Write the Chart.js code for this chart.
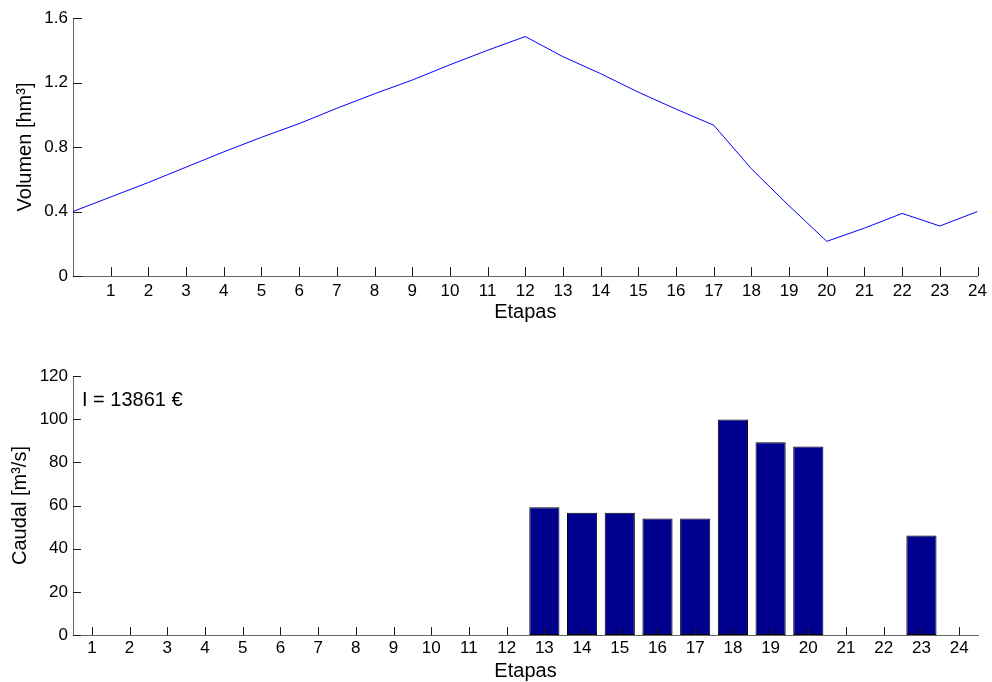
<!DOCTYPE html>
<html>
<head>
<meta charset="utf-8">
<script src="https://cdn.jsdelivr.net/npm/chart.js@4"></script>
<style>
  html, body { margin: 0; padding: 0; background: #fff; }
  #wrap { position: relative; width: 992px; height: 682px; }
  .panel { position: absolute; left: 0; width: 992px; height: 341px; }
</style>
</head>
<body>
<div id="wrap">
  <div class="panel" style="top:0"><canvas id="vol"></canvas></div>
  <div class="panel" style="top:341px"><canvas id="flow"></canvas></div>
</div>
<script>
// Reservoir volume at the end of each stage (stage 0 = initial state)
const stages = [0, 1, 2, 3, 4, 5, 6, 7, 8, 9, 10, 11, 12, 13, 14, 15, 16, 17, 18, 19, 20, 21, 22, 23, 24];
const volume = [0.40, 0.49, 0.58, 0.675, 0.77, 0.86, 0.945, 1.04, 1.13, 1.215, 1.31, 1.40, 1.485,
                1.36, 1.255, 1.14, 1.035, 0.935, 0.665, 0.435, 0.215, 0.297, 0.388, 0.31, 0.40];
const volumeTicks = [0, 0.4, 0.8, 1.2, 1.6];

// Turbined flow per stage
const flowStages = ['1', '2', '3', '4', '5', '6', '7', '8', '9', '10', '11', '12',
                    '13', '14', '15', '16', '17', '18', '19', '20', '21', '22', '23', '24'];
const flow = [0, 0, 0, 0, 0, 0, 0, 0, 0, 0, 0, 0,
              59.2, 56.6, 56.6, 54.0, 54.0, 99.8, 89.3, 87.3, 0, 0, 46.1, 0];
const flowTicks = [0, 20, 40, 60, 80, 100, 120];

const costLabel = 'I = 13861 \u20AC';

const FONT = "'Liberation Sans', Arial, Helvetica, sans-serif";
const tickFont = { family: FONT, size: 17 };
const titleFont = { family: FONT, size: 20, lineHeight: 1 };

// Tick marks drawn on the inside of the axes
const inwardTicks = {
  id: 'inwardTicks',
  afterDatasetsDraw(chart, args, opts) {
    const { ctx, chartArea: a } = chart;
    const xs = chart.scales.x, ys = chart.scales.y;
    const len = opts.length || 8;
    ctx.save();
    ctx.strokeStyle = '#1a1a1a';
    ctx.lineWidth = 1;
    ctx.beginPath();
    xs.ticks.forEach((t, i) => {
      const px = Math.round(xs.getPixelForTick(i)) + 0.5;
      if (px < a.left + 1) return;
      ctx.moveTo(px, a.bottom);
      ctx.lineTo(px, a.bottom - len);
    });
    ys.ticks.forEach((t, i) => {
      const py = Math.round(ys.getPixelForTick(i)) + 0.5;
      ctx.moveTo(a.left, py);
      ctx.lineTo(a.left + len, py);
    });
    ctx.stroke();
    ctx.restore();
  }
};

// Cost annotation in the upper-left corner of the flow panel
const costText = {
  id: 'costText',
  afterDraw(chart) {
    const { ctx, chartArea: a } = chart;
    ctx.save();
    ctx.font = '20px ' + FONT;
    ctx.fillStyle = '#000';
    ctx.textBaseline = 'middle';
    ctx.textAlign = 'left';
    ctx.fillText(costLabel, a.left + 9, a.top + 24);
    ctx.restore();
  }
};

function fixedWidth(w) { return (scale) => { scale.width = w; }; }
function fixedHeight(h) { return (scale) => { scale.height = h; }; }

new Chart(document.getElementById('vol'), {
  type: 'line',
  data: {
    datasets: [{
      data: stages.map((s, i) => ({ x: s, y: volume[i] })),
      borderColor: '#0000ff',
      borderWidth: 1,
      pointRadius: 0,
      tension: 0,
      fill: false
    }]
  },
  options: {
    responsive: true,
    maintainAspectRatio: false,
    animation: false,
    events: [],
    layout: { padding: { top: 18, right: 14, left: 0, bottom: 0 } },
    plugins: { legend: { display: false }, tooltip: { enabled: false }, inwardTicks: { length: 9 } },
    scales: {
      x: {
        type: 'linear',
        min: 0, max: 24,
        afterFit: fixedHeight(65),
        grid: { display: false, drawTicks: false },
        border: { display: true, color: '#666', width: 1 },
        ticks: {
          stepSize: 1, autoSkip: false, maxRotation: 0, padding: 5,
          color: '#000', font: tickFont,
          callback: (v) => (v === 0 ? '' : String(v))
        },
        title: { display: true, text: 'Etapas', color: '#000', font: titleFont, padding: { top: 0, bottom: 19 } }
      },
      y: {
        min: 0, max: 1.6,
        afterFit: fixedWidth(73),
        afterBuildTicks: (scale) => { scale.ticks = volumeTicks.map(v => ({ value: v })); },
        grid: { display: false, drawTicks: false },
        border: { display: true, color: '#666', width: 1 },
        ticks: {
          padding: 5, color: '#000', font: tickFont,
          callback: (v) => (v === 0 ? '0' : v.toFixed(1))
        },
        title: { display: true, text: 'Volumen [hm\u00B3]', color: '#000', font: titleFont, padding: { top: 15, bottom: 0 } }
      }
    }
  },
  plugins: [inwardTicks]
});

new Chart(document.getElementById('flow'), {
  type: 'bar',
  data: {
    labels: flowStages,
    datasets: [{
      data: flow,
      backgroundColor: '#00008f',
      borderColor: '#000000',
      borderWidth: 1,
      borderSkipped: false,
      categoryPercentage: 1.0,
      barPercentage: 0.8
    }]
  },
  options: {
    responsive: true,
    maintainAspectRatio: false,
    animation: false,
    events: [],
    layout: { padding: { top: 35, right: 14, left: 0, bottom: 0 } },
    plugins: { legend: { display: false }, tooltip: { enabled: false }, inwardTicks: { length: 8 } },
    scales: {
      x: {
        type: 'category',
        offset: true,
        afterFit: fixedHeight(47),
        grid: { display: false, drawTicks: false, offset: true },
        border: { display: true, color: '#666', width: 1 },
        ticks: { autoSkip: false, maxRotation: 0, padding: 3, color: '#000', font: tickFont },
        title: { display: true, text: 'Etapas', color: '#000', font: titleFont, padding: { top: 0, bottom: 1 } }
      },
      y: {
        min: 0, max: 120,
        afterFit: fixedWidth(73),
        afterBuildTicks: (scale) => { scale.ticks = flowTicks.map(v => ({ value: v })); },
        grid: { display: false, drawTicks: false },
        border: { display: true, color: '#666', width: 1 },
        ticks: { padding: 5, color: '#000', font: tickFont },
        title: { display: true, text: 'Caudal [m\u00B3/s]', color: '#000', font: titleFont, padding: { top: 10, bottom: 0 } }
      }
    }
  },
  plugins: [inwardTicks, costText]
});
</script>
</body>
</html>
